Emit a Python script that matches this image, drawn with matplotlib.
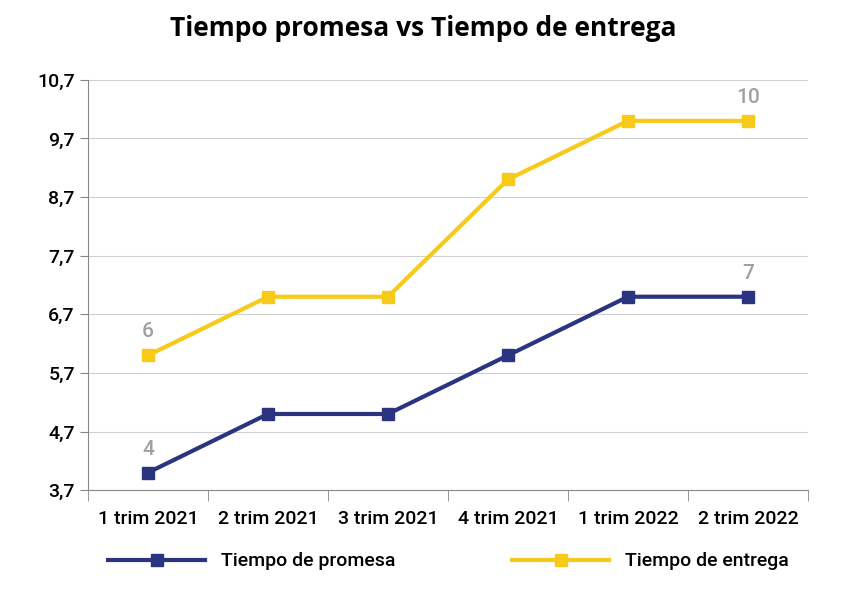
import numpy as np
import matplotlib.pyplot as plt

plt.rcParams['font.family'] = ['Roboto', 'DejaVu Sans']

# Data
categories = ['1 trim 2021', '2 trim 2021', '3 trim 2021', '4 trim 2021', '1 trim 2022', '2 trim 2022']
promesa = [4, 5, 5, 6, 7, 7]
entrega = [6, 7, 7, 9, 10, 10]
yticks = [3.7, 4.7, 5.7, 6.7, 7.7, 8.7, 9.7, 10.7]

x = np.arange(len(categories))
navy = '#2b3480'  # Tiempo de promesa
gold = '#f7c918'  # Tiempo de entrega

# Plotting the lines
fig = plt.figure(figsize=(8.46, 6), dpi=100)
ax = fig.add_axes([0.104, 0.183, 0.851, 0.684])
ax.plot(x, promesa, color=navy, lw=3, marker='s', ms=8, label='Tiempo de promesa')
ax.plot(x, entrega, color=gold, lw=3, marker='s', ms=8, label='Tiempo de entrega')

# Value labels at the ends
for i in [0, len(x) - 1]:
    ax.annotate(str(promesa[i]), (x[i], promesa[i]), xytext=(0, 10), textcoords='offset points',
                ha='center', va='bottom', color='#a0a0a0', fontsize=15, fontweight='medium')
    ax.annotate(str(entrega[i]), (x[i], entrega[i]), xytext=(0, 10), textcoords='offset points',
                ha='center', va='bottom', color='#a0a0a0', fontsize=15, fontweight='medium')

# Axes styling
ax.set_xlim(-0.5, len(x) - 0.5)
ax.set_ylim(3.7, 10.7)
ax.set_yticks(yticks)
ax.set_yticklabels([f'{v:.1f}'.replace('.', ',') for v in yticks], fontsize=14, fontweight='medium')
ax.set_xticks(x)
ax.set_xticklabels(categories, fontsize=14, fontweight='medium')
ax.set_xticks(np.arange(-0.5, len(x)), minor=True)
ax.tick_params(axis='x', which='major', length=0, pad=14)
ax.tick_params(axis='x', which='minor', length=8, color='#888888')
ax.tick_params(axis='y', length=6, color='#888888')
ax.grid(axis='y', color='#d0d0d0', lw=0.8)
ax.set_axisbelow(True)
for s in ['top', 'right']:
    ax.spines[s].set_visible(False)
ax.spines['left'].set_color('#888888')
ax.spines['bottom'].set_color('#888888')

# Title and legend
fig.suptitle('Tiempo promesa vs Tiempo de entrega', fontsize=19, fontweight='bold',
             family=['Open Sans', 'DejaVu Sans'], y=0.975)
fig.legend(loc='lower center', ncol=2, frameon=False, prop={'size': 14, 'weight': 'medium'},
           handlelength=5, columnspacing=6, bbox_to_anchor=(0.53, 0.02))

fig.savefig('out.png', dpi=100)
